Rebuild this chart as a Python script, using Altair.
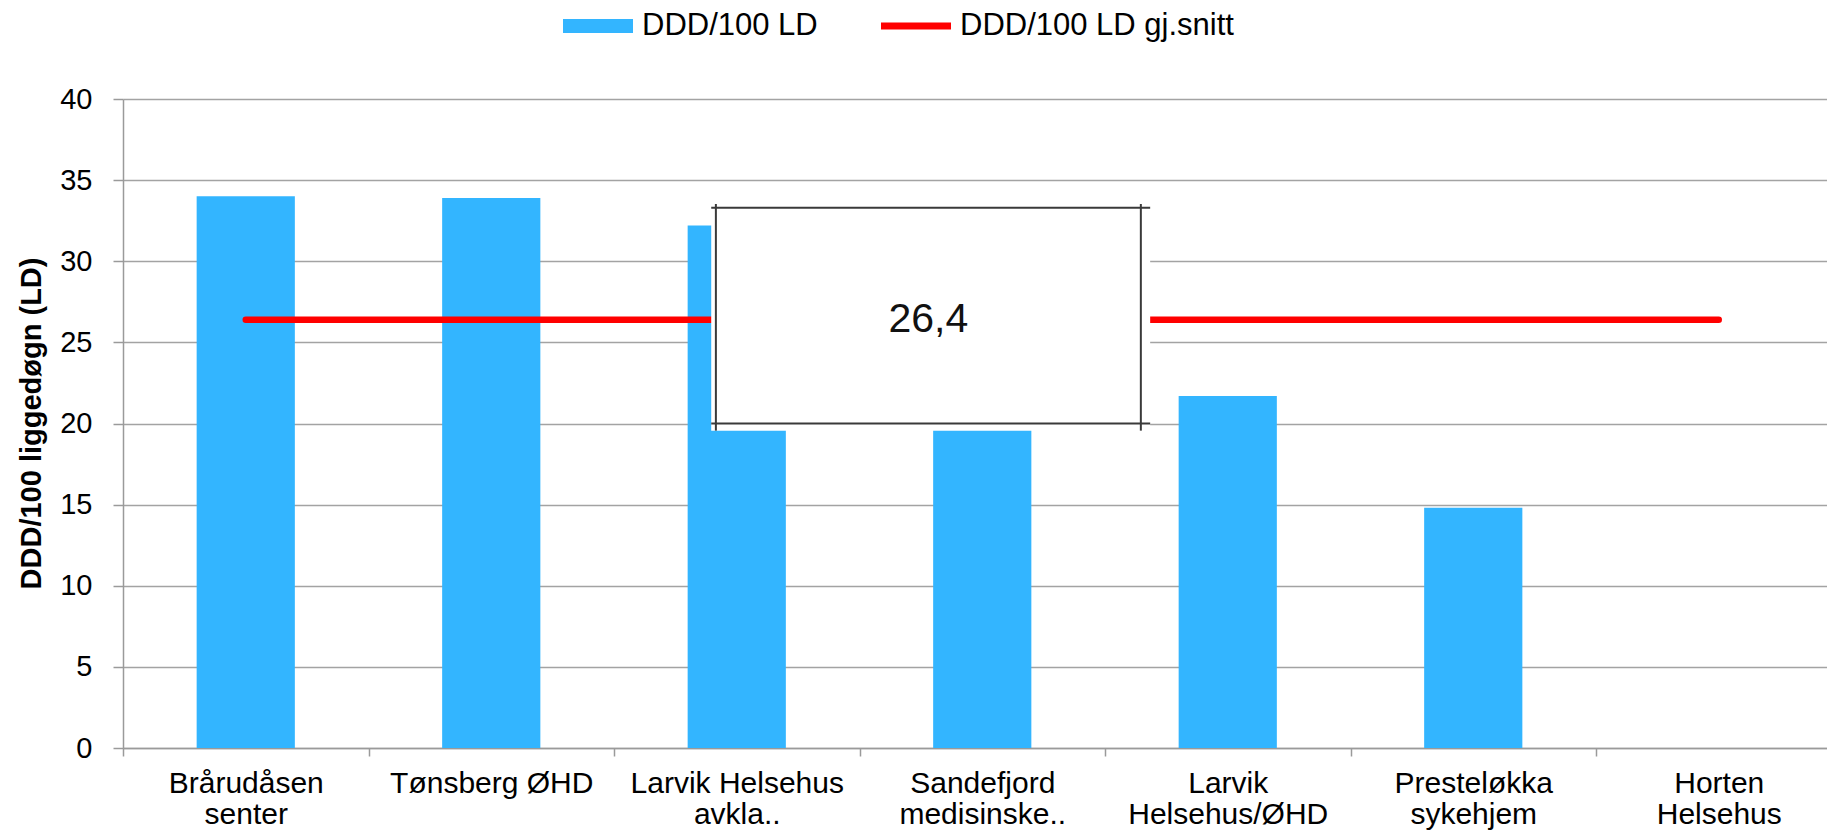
import altair as alt
import pandas as pd

# ---- data ----
categories = [
    "Brårudåsen\nsenter",
    "Tønsberg ØHD",
    "Larvik Helsehus\navkla..",
    "Sandefjord\nmedisinske..",
    "Larvik\nHelsehus/ØHD",
    "Presteløkka\nsykehjem",
    "Horten\nHelsehus",
]
ddd_values = [34.0, 33.9, 32.2, 25.0, 21.7, 14.8, 0.0]
avg_value = 26.4
series_names = ["DDD/100 LD", "DDD/100 LD gj.snitt"]
series_colors = ["#33b5ff", "#ff0000"]
y_ticks = [0, 5, 10, 15, 20, 25, 30, 35, 40]

# annotation box (x in category-step units, y in data units)
box_fill_x = [2.396, 4.184]
box_fill_y = [19.56, 33.53]
box_border_x = [2.415, 4.146]
box_border_y = [20.0, 33.3]

n = len(categories)
avg_label = f"{avg_value:.1f}".replace(".", ",")

bars_df = pd.DataFrame({"category": categories, "value": ddd_values, "series": series_names[0]})
avg_df = pd.DataFrame({"category": categories, "value": [avg_value] * n, "series": series_names[1]})
fill_df = pd.DataFrame({"x": [box_fill_x[0]], "x2": [box_fill_x[1]], "value": [box_fill_y[0]], "v2": [box_fill_y[1]]})
border_df = pd.DataFrame({
    "x": [box_fill_x[0], box_fill_x[0], box_border_x[0], box_border_x[1]],
    "x2": [box_fill_x[1], box_fill_x[1], box_border_x[0], box_border_x[1]],
    "value": [box_border_y[0], box_border_y[1], box_fill_y[0], box_fill_y[0]],
    "v2": [box_border_y[0], box_border_y[1], box_fill_y[1], box_fill_y[1]],
})
text_df = pd.DataFrame({"x": [sum(box_border_x) / 2], "value": [avg_value], "label": [avg_label]})

GRAY = "#9a9a9a"
PLOT_W = 1704          # visible plot width (fits the page)
X_RANGE = [0, 1718.5]  # category band extent (the reference crops the last band)

y_scale = alt.Scale(domain=[0, 40], nice=False, zero=True)
y_axis = alt.Axis(
    values=y_ticks, labelFontSize=29, labelPadding=21, tickSize=10, tickColor=GRAY,
    tickWidth=1.5, domainColor=GRAY, domainWidth=1.5, gridColor="#a3a3a3", gridWidth=1.5,
    titleFontSize=29, titleFontWeight="bold", titleX=-92, titleY=324, titleAngle=270,
    titleBaseline="middle", titleAlign="center", labelColor="#000", titleColor="#000",
)
Y_TITLE = "DDD/100 liggedøgn (LD)"

x_band = alt.X(
    "category:N", sort=categories, title=None,
    scale=alt.Scale(paddingInner=0, paddingOuter=0, range=X_RANGE),
    axis=alt.Axis(
        labelExpr="split(datum.label, '\\n')", labelFontSize=30, labelLineHeight=31.6,
        labelBaseline="top", labelPadding=12, labelLimit=0, labelAngle=0,
        tickBand="extent", tickSize=8, tickColor=GRAY, tickWidth=1.5,
        domainColor=GRAY, domainWidth=1.5, grid=False, labelColor="#000", labelOverlap=False,
    ),
)

color_enc = alt.Color(
    "series:N",
    scale=alt.Scale(domain=series_names, range=series_colors),
    legend=alt.Legend(
        title=None, orient="none", legendX=440, legendY=-108, direction="horizontal",
        labelFontSize=31, labelColor="#000", labelOffset=9, columnPadding=63, padding=0,
        labelLimit=0, symbolSize=4900, symbolStrokeWidth=0, symbolOpacity=1,
        symbolType=alt.ExprRef(expr="datum.value === 'DDD/100 LD' ? 'M-1,-0.2H1V0.2H-1Z' : 'M-1,-0.1H1V0.1H-1Z'"),
    ),
)

bars = alt.Chart(bars_df).mark_bar(width=alt.RelativeBandSize(0.4)).encode(
    x=x_band,
    y=alt.Y("value:Q", scale=y_scale, axis=y_axis, title=Y_TITLE),
    color=color_enc,
)
line = alt.Chart(avg_df).mark_line(strokeWidth=6.5, strokeCap="round").encode(
    x=x_band,
    y=alt.Y("value:Q", scale=y_scale, axis=y_axis, title=Y_TITLE),
    color=color_enc,
)
main = alt.layer(bars, line)

x_q = alt.X("x:Q", scale=alt.Scale(domain=[0, n], nice=False, zero=False, range=X_RANGE), axis=None)
box_fill = alt.Chart(fill_df).mark_rect(fill="white", strokeWidth=0).encode(
    x=x_q, x2="x2:Q",
    y=alt.Y("value:Q", scale=y_scale, axis=y_axis, title=Y_TITLE), y2="v2:Q",
)
box_border = alt.Chart(border_df).mark_rule(color="#3a3a3a", strokeWidth=2).encode(
    x=x_q, x2="x2:Q",
    y=alt.Y("value:Q", scale=y_scale, axis=y_axis, title=Y_TITLE), y2="v2:Q",
)
box_text = alt.Chart(text_df).mark_text(fontSize=41, color="#111", align="center", baseline="middle").encode(
    x=x_q,
    y=alt.Y("value:Q", scale=y_scale, axis=y_axis, title=Y_TITLE),
    text="label:N",
)
annot = alt.layer(box_fill, box_border, box_text)

chart = alt.layer(main, annot).resolve_scale(x="independent").properties(
    width=PLOT_W, height=649,
    autosize=alt.AutoSizeParams(type="none"),
    padding={"left": 115, "top": 91, "right": 0, "bottom": 82},
).configure(font="Liberation Sans").configure_view(strokeWidth=0)

chart.save("out.html", embed_options={"renderer": "svg", "actions": False})
